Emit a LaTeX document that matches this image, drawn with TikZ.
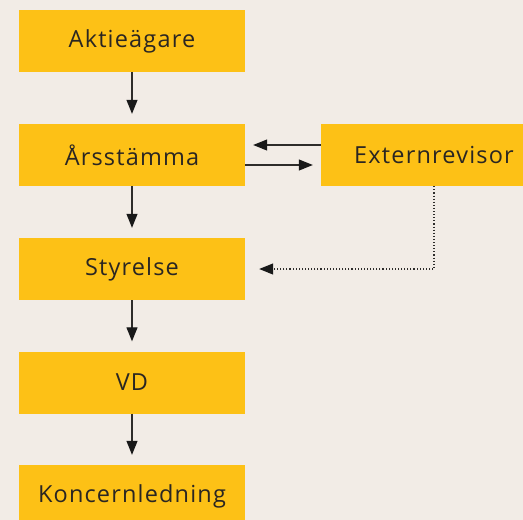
\documentclass[tikz,border=0pt]{standalone}
\usepackage{fontspec}
\setmainfont{Open Sans}[LetterSpace=5]
\usetikzlibrary{arrows.meta}
\definecolor{bg}{HTML}{F2ECE6}
\definecolor{boxy}{HTML}{FDC116}
\definecolor{ink}{HTML}{2A2622}
\definecolor{lin}{HTML}{2E2C2A}
\begin{document}
\begin{tikzpicture}[x=1pt,y=-1pt,
  orgbox/.style={fill=boxy,draw=none,minimum width=226pt,minimum height=62pt,inner sep=0pt,
    text=ink,font=\fontsize{23.5}{26}\selectfont},
  conn/.style={draw=lin,line width=1.1pt,-{Triangle[length=14pt,width=11pt,color=black!90]}},
  dotconn/.style={conn,dotted}]
\useasboundingbox (0,0) rectangle (523,520);
\fill[bg] (0,0) rectangle (523,520);
\begin{scope}
\clip (0,0) rectangle (523,520);
\node[orgbox] (a) at (132,41) {Aktieägare};
\node[orgbox] (b) at (132,155) {Årsstämma};
\node[orgbox] (c) at (132,269) {Styrelse};
\node[orgbox] (d) at (132,382.5) {VD};
\node[orgbox] (e) at (132,496) {Koncernledning};
\node[orgbox] (x) at (434,155) {Externrevisor};
\end{scope}
\draw[conn,shorten >=10pt] (a) -- (b);
\draw[conn,shorten >=10pt] (b) -- (c);
\draw[conn,shorten >=10pt] (c) -- (d);
\draw[conn,shorten >=10pt] (d) -- (e);
\draw[conn,shorten >=8pt] ([yshift=10pt]x.west) -- ([yshift=10pt]b.east);
\draw[conn,shorten >=8pt] ([yshift=-10pt]b.east) -- ([yshift=-10pt]x.west);
\draw[dotconn,shorten >=14pt] (x.south) |- (c.east);
\end{tikzpicture}
\end{document}
